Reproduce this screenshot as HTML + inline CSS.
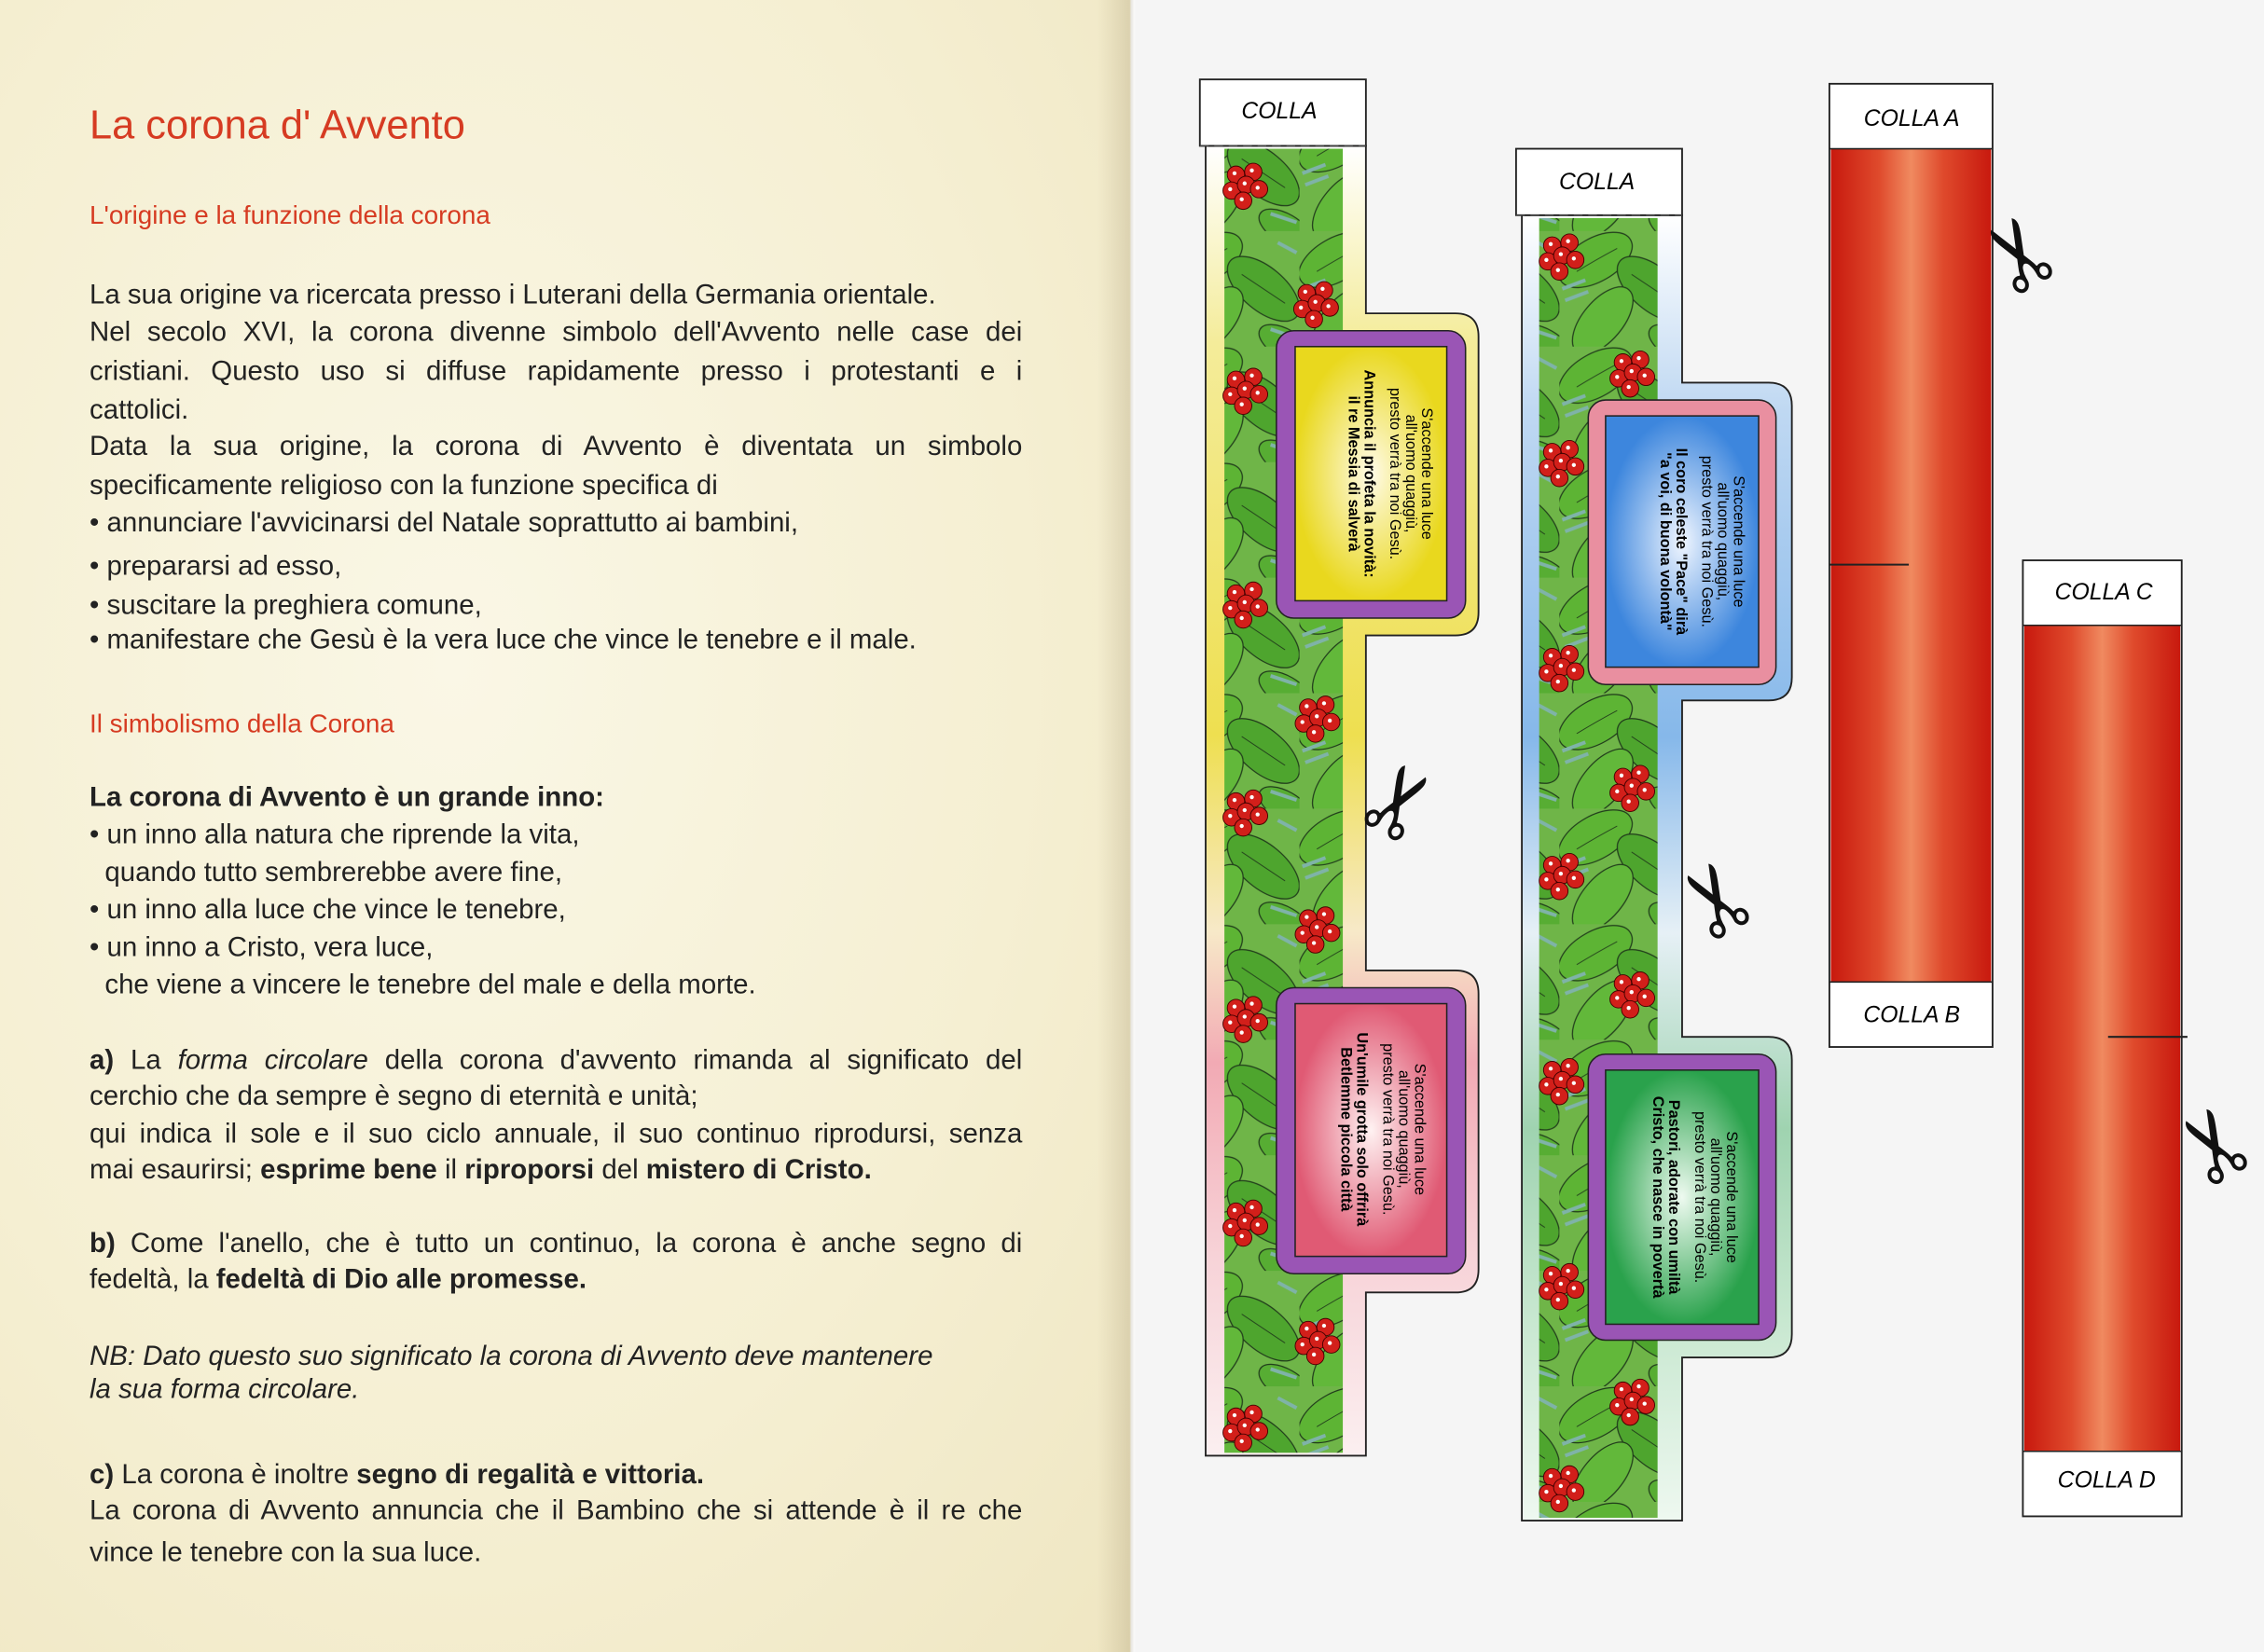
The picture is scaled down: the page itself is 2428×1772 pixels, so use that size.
<!DOCTYPE html>
<html><head><meta charset="utf-8"><style>
html,body{margin:0;padding:0;width:2428px;height:1772px;overflow:hidden;background:#f5f5f5}
#s{position:absolute;left:0;top:0;width:1568px;height:1144px;transform:scale(1.54847,1.549);transform-origin:0 0}
#left{position:absolute;left:0;top:0;width:783px;height:1144px;background:radial-gradient(ellipse at 40% 40%,#faf7e6 0%,#f5efd2 60%,#efe6c2 100%)}
#fold{position:absolute;left:760px;top:0;width:26px;height:1144px;background:linear-gradient(90deg,rgba(0,0,0,0),rgba(120,100,60,.18) 85%,rgba(255,255,255,.6))}
.l{position:absolute;left:62px;width:646px;font-family:"Liberation Sans Narrow","Liberation Sans",sans-serif;font-size:19px;color:#222;white-space:nowrap;line-height:22px}
.j{text-align:justify;text-align-last:justify;white-space:normal}
.h{color:#d63b22;font-size:18px}
b{font-weight:bold}
</style></head><body><div id="s">
<div id="left"></div><div id="fold"></div>
<div class="l" style="top:70px;font-size:28px;color:#d63b22;line-height:34px">La corona d' Avvento</div>
<div class="l h" style="top:138px">L'origine e la funzione della corona</div>
<div class="l" style="top:194px">La sua origine va ricercata presso i Luterani della Germania orientale.</div>
<div class="l j" style="top:220px">Nel secolo XVI, la corona divenne simbolo dell'Avvento nelle case dei</div>
<div class="l j" style="top:247px">cristiani. Questo uso si diffuse rapidamente presso i protestanti e i</div>
<div class="l" style="top:274px">cattolici.</div>
<div class="l j" style="top:299px">Data la sua origine, la corona di Avvento è diventata un simbolo</div>
<div class="l" style="top:326px">specificamente religioso con la funzione specifica di</div>
<div class="l" style="top:352px">• annunciare l'avvicinarsi del Natale soprattutto ai bambini,</div>
<div class="l" style="top:382px">• prepararsi ad esso,</div>
<div class="l" style="top:409px">• suscitare la preghiera comune,</div>
<div class="l" style="top:433px">• manifestare che Gesù è la vera luce che vince le tenebre e il male.</div>
<div class="l h" style="top:490px">Il simbolismo della Corona</div>
<div class="l" style="top:542px"><b>La corona di Avvento è un grande inno:</b></div>
<div class="l" style="top:568px">• un inno alla natura che riprende la vita,</div>
<div class="l" style="top:594px">&nbsp;&nbsp;quando tutto sembrerebbe avere fine,</div>
<div class="l" style="top:620px">• un inno alla luce che vince le tenebre,</div>
<div class="l" style="top:646px">• un inno a Cristo, vera luce,</div>
<div class="l" style="top:672px">&nbsp;&nbsp;che viene a vincere le tenebre del male e della morte.</div>
<div class="l j" style="top:724px"><b>a)</b> La <i>forma circolare</i> della corona d'avvento rimanda al significato del</div>
<div class="l" style="top:749px">cerchio che da sempre è segno di eternità e unità;</div>
<div class="l j" style="top:775px">qui indica il sole e il suo ciclo annuale, il suo continuo riprodursi, senza</div>
<div class="l" style="top:800px">mai esaurirsi; <b>esprime bene</b> il <b>riproporsi</b> del <b>mistero di Cristo.</b></div>
<div class="l j" style="top:851px"><b>b)</b> Come l'anello, che è tutto un continuo, la corona è anche segno di</div>
<div class="l" style="top:876px">fedeltà, la <b>fedeltà di Dio alle promesse.</b></div>
<div class="l" style="top:929px;font-style:italic;width:660px">NB: Dato questo suo significato la corona di Avvento deve mantenere</div>
<div class="l" style="top:952px;font-style:italic">la sua forma circolare.</div>
<div class="l" style="top:1011px"><b>c)</b> La corona è inoltre <b>segno di regalità e vittoria.</b></div>
<div class="l j" style="top:1036px">La corona di Avvento annuncia che il Bambino che si attende è il re che</div>
<div class="l" style="top:1065px">vince le tenebre con la sua luce.</div>

<svg width="1568" height="1144" style="position:absolute;left:0;top:0" font-family="Liberation Sans, sans-serif">
<defs>
<linearGradient id="g1" x1="0" y1="0" x2="0" y2="1"><stop offset="0" stop-color="#fff"/><stop offset=".15" stop-color="#f4ec9a"/><stop offset=".45" stop-color="#eedf50"/><stop offset=".6" stop-color="#f7e9c8"/><stop offset=".7" stop-color="#f2aab4"/><stop offset=".85" stop-color="#f7d3d8"/><stop offset="1" stop-color="#fbeff0"/></linearGradient>
<linearGradient id="g2" x1="0" y1="0" x2="0" y2="1"><stop offset="0" stop-color="#fff"/><stop offset=".15" stop-color="#bfd8f2"/><stop offset=".4" stop-color="#86b8ea"/><stop offset=".55" stop-color="#e6f0f6"/><stop offset=".7" stop-color="#9fd3b0"/><stop offset=".85" stop-color="#c9e8d1"/><stop offset="1" stop-color="#eef8f0"/></linearGradient>
<radialGradient id="ry"><stop offset="0" stop-color="#fffbe8"/><stop offset="1" stop-color="#e9d81e"/></radialGradient>
<radialGradient id="rb"><stop offset="0" stop-color="#f0f6ff"/><stop offset="1" stop-color="#3d86dd"/></radialGradient>
<radialGradient id="rp"><stop offset="0" stop-color="#fff2f2"/><stop offset="1" stop-color="#e05a74"/></radialGradient>
<radialGradient id="rg"><stop offset="0" stop-color="#eefaf0"/><stop offset="1" stop-color="#2aa24c"/></radialGradient>
<linearGradient id="red" x1="0" y1="0" x2="1" y2="0"><stop offset="0" stop-color="#c8190e"/><stop offset=".3" stop-color="#df4a2c"/><stop offset=".5" stop-color="#f08a60"/><stop offset=".7" stop-color="#df4a2c"/><stop offset="1" stop-color="#c8190e"/></linearGradient>
<pattern id="lv" width="90" height="80" patternUnits="userSpaceOnUse">
<rect width="90" height="80" fill="#6fb548"/>
<ellipse cx="25" cy="20" rx="28" ry="15" fill="#5db434" stroke="#1f3a1a" stroke-width=".8" transform="rotate(-30 25 20)"/>
<ellipse cx="65" cy="40" rx="30" ry="15" fill="#4ea52e" stroke="#1f3a1a" stroke-width=".8" transform="rotate(40 65 40)"/>
<ellipse cx="30" cy="62" rx="28" ry="14" fill="#62b83a" stroke="#1f3a1a" stroke-width=".8" transform="rotate(-50 30 62)"/>
<ellipse cx="80" cy="78" rx="20" ry="10" fill="#57ad33" stroke="#1f3a1a" stroke-width=".8" transform="rotate(30 80 78)"/>
<path d="M2 40 L18 34 M4 48 L20 42 M75 8 L88 15 M70 68 L88 74" stroke="#7fb3a8" stroke-width="2.5"/>
<path d="M12 28 Q25 20 40 12 M50 30 Q65 40 80 50" stroke="#1f3a1a" stroke-width=".6" fill="none"/>
</pattern>
<g id="bc"><g stroke="#400" stroke-width=".6" fill="#d21f1a"><circle cx="-7" cy="-7" r="6"/><circle cx="5" cy="-9" r="6"/><circle cx="-10" cy="4" r="6"/><circle cx="0" cy="0" r="6"/><circle cx="9" cy="3" r="6"/><circle cx="-2" cy="11" r="6"/></g><g fill="#fff"><circle cx="-8" cy="-8" r="1.4"/><circle cx="4" cy="-10" r="1.4"/><circle cx="-11" cy="3" r="1.4"/><circle cx="-1" cy="-1" r="1.4"/><circle cx="8" cy="2" r="1.4"/><circle cx="-3" cy="10" r="1.4"/></g></g>
</defs>
<!-- strip 1 -->
<path d="M835 101 H946 V217 H1008 Q1024 217 1024 233 V424 Q1024 440 1008 440 H946 V672 H1008 Q1024 672 1024 688 V879 Q1024 895 1008 895 H946 V1008 H835 Z" fill="url(#g1)" stroke="#222" stroke-width="1.2"/>
<rect x="848" y="103" width="82" height="903" fill="url(#lv)"/>
<rect x="831" y="55" width="115" height="46" fill="#fff" stroke="#222" stroke-width="1.2"/>
<line x1="831" y1="101" x2="946" y2="101" stroke="#444" stroke-dasharray="6 4"/>
<text x="886" y="82" font-size="16" font-style="italic" text-anchor="middle">COLLA</text>
<rect x="884" y="229" width="131" height="199" rx="12" fill="#9a55b5" stroke="#222"/>
<rect x="897" y="240" width="105" height="176" fill="url(#ry)" stroke="#222"/>
<rect x="884" y="684" width="131" height="198" rx="12" fill="#9a55b5" stroke="#222"/>
<rect x="897" y="695" width="105" height="175" fill="url(#rp)" stroke="#222"/>
<!-- strip 2 -->
<path d="M1054 149 H1165 V265 H1225 Q1241 265 1241 281 V469 Q1241 485 1225 485 H1165 V718 H1225 Q1241 718 1241 734 V924 Q1241 940 1225 940 H1165 V1053 H1054 Z" fill="url(#g2)" stroke="#222" stroke-width="1.2"/>
<rect x="1066" y="151" width="82" height="900" fill="url(#lv)"/>
<rect x="1050" y="103" width="115" height="46" fill="#fff" stroke="#222" stroke-width="1.2"/>
<line x1="1050" y1="149" x2="1165" y2="149" stroke="#444" stroke-dasharray="6 4"/>
<text x="1106" y="131" font-size="16" font-style="italic" text-anchor="middle">COLLA</text>
<rect x="1100" y="277" width="130" height="197" rx="12" fill="#e98fa0" stroke="#222"/>
<rect x="1112" y="288" width="106" height="174" fill="url(#rb)" stroke="#222"/>
<rect x="1100" y="730" width="130" height="198" rx="12" fill="#9a55b5" stroke="#222"/>
<rect x="1112" y="741" width="106" height="176" fill="url(#rg)" stroke="#222"/>
<!-- berries -->
<use href="#bc" x="863" y="128"/><use href="#bc" x="912" y="210"/><use href="#bc" x="863" y="270"/><use href="#bc" x="863" y="418"/><use href="#bc" x="913" y="497"/><use href="#bc" x="863" y="562"/><use href="#bc" x="913" y="643"/><use href="#bc" x="863" y="705"/><use href="#bc" x="863" y="846"/><use href="#bc" x="913" y="928"/><use href="#bc" x="863" y="988"/>
<use href="#bc" x="1082" y="177"/><use href="#bc" x="1131" y="258"/><use href="#bc" x="1082" y="320"/><use href="#bc" x="1082" y="462"/><use href="#bc" x="1131" y="545"/><use href="#bc" x="1082" y="606"/><use href="#bc" x="1131" y="688"/><use href="#bc" x="1082" y="748"/><use href="#bc" x="1082" y="890"/><use href="#bc" x="1131" y="970"/><use href="#bc" x="1082" y="1030"/>
<!-- rotated texts -->
<g font-size="10.5" text-anchor="middle">
<g transform="translate(949 328) rotate(90)"><text y="-36">S'accende una luce</text><text y="-25">all'uomo quaggiù,</text><text y="-14">presto verrà tra noi Gesù.</text><text y="4" font-weight="bold">Annuncia il profeta la novità:</text><text y="15" font-weight="bold">il re Messia di salverà</text></g>
<g transform="translate(949 782) rotate(90)"><text y="-31">S'accende una luce</text><text y="-20">all'uomo quaggiù,</text><text y="-9">presto verrà tra noi Gesù.</text><text y="9" font-weight="bold">Un'umile grotta solo offrirà</text><text y="20" font-weight="bold">Betlemme piccola città</text></g>
<g transform="translate(1165 375) rotate(90)"><text y="-36">S'accende una luce</text><text y="-25">all'uomo quaggiù,</text><text y="-14">presto verrà tra noi Gesù.</text><text y="4" font-weight="bold">Il coro celeste "Pace" dirà</text><text y="15" font-weight="bold">"a voi, di buona volontà"</text></g>
<g transform="translate(1165 829) rotate(90)"><text y="-31">S'accende una luce</text><text y="-20">all'uomo quaggiù,</text><text y="-9">presto verrà tra noi Gesù.</text><text y="9" font-weight="bold">Pastori, adorate con umiltà</text><text y="20" font-weight="bold">Cristo, che nasce in povertà</text></g>
</g>
<!-- red strips -->
<rect x="1267" y="58" width="113" height="667" fill="#fff" stroke="#222" stroke-width="1.2"/>
<rect x="1268" y="103" width="111" height="577" fill="url(#red)"/>
<line x1="1267" y1="103" x2="1380" y2="103" stroke="#222"/><line x1="1267" y1="680" x2="1380" y2="680" stroke="#222"/>
<line x1="1267" y1="391" x2="1322" y2="391" stroke="#222" stroke-width="1.3"/>
<text x="1324" y="87" font-size="16" font-style="italic" text-anchor="middle">COLLA A</text>
<text x="1324" y="708" font-size="16" font-style="italic" text-anchor="middle">COLLA B</text>
<rect x="1401" y="388" width="110" height="662" fill="#fff" stroke="#222" stroke-width="1.2"/>
<rect x="1402" y="433" width="108" height="572" fill="url(#red)"/>
<line x1="1401" y1="433" x2="1511" y2="433" stroke="#222"/><line x1="1401" y1="1005" x2="1511" y2="1005" stroke="#222"/>
<line x1="1460" y1="718" x2="1515" y2="718" stroke="#222" stroke-width="1.3"/>
<text x="1457" y="415" font-size="16" font-style="italic" text-anchor="middle">COLLA C</text>
<text x="1459" y="1030" font-size="16" font-style="italic" text-anchor="middle">COLLA D</text>
<!-- scissors -->
<g font-size="66" fill="#111" text-anchor="middle">
<text transform="translate(970 556) rotate(-60)" y="22">✂</text>
<text transform="translate(1190 622) rotate(-120)" y="22">✂</text>
<text transform="translate(1400 175) rotate(-120)" y="22">✂</text>
<text transform="translate(1535 792) rotate(-120)" y="22">✂</text>
</g>
</svg>
</div></body></html>
